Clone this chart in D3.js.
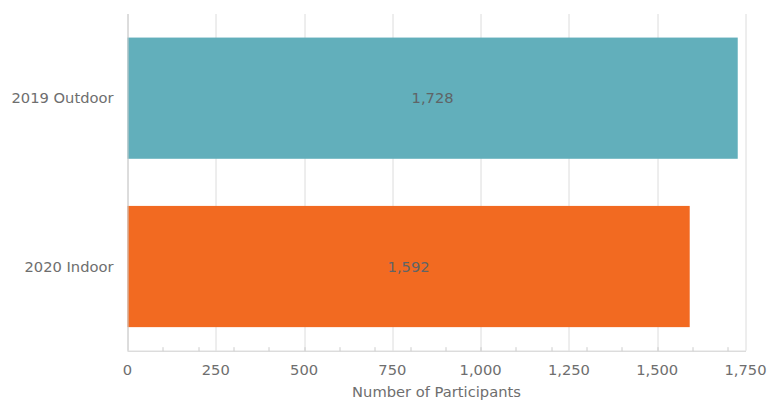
<!DOCTYPE html>
<html>
<head>
<meta charset="utf-8">
<script src="https://cdn.jsdelivr.net/npm/d3@7/dist/d3.min.js"></script>
<style>
  html, body { margin: 0; padding: 0; background: #fff; }
  svg { display: block; font-family: "DejaVu Sans", Verdana, sans-serif; }
</style>
</head>
<body>
<svg id="chart" width="768" height="402"></svg>
<script>
// Participants per event
const categories = ["2019 Outdoor", "2020 Indoor"];
const participants = [1728, 1592];
const barColors = ["#62afbb", "#f26a21"];
const xTicks = [0, 250, 500, 750, 1000, 1250, 1500, 1750];
const xMinorTicks = d3.range(100, 1750, 100);
const xTitle = "Number of Participants";

const svg = d3.select("#chart");
const margin = { top: 14, right: 22.5, bottom: 51.3, left: 127.5 };
const width = 768 - margin.left - margin.right;
const height = 402 - margin.top - margin.bottom;
const fontSize = 14.7;

const g = svg.append("g").attr("transform", `translate(${margin.left},${margin.top})`);

const x = d3.scaleLinear().domain([0, 1750]).range([0, width]);
const y = d3.scaleBand().domain(categories).range([0, height])
  .paddingInner(0.28).paddingOuter(0.14);

const fmt = d3.format(",");

// vertical gridlines
g.append("g").selectAll("line").data(xTicks).join("line")
  .attr("x1", d => Math.round(x(d)) + 0.5).attr("x2", d => Math.round(x(d)) + 0.5)
  .attr("y1", 0).attr("y2", height)
  .attr("stroke", "#dcdcdc").attr("stroke-width", 1);

// bars
g.append("g").selectAll("rect").data(categories).join("rect")
  .attr("x", x(0))
  .attr("y", d => y(d))
  .attr("width", (d, i) => x(participants[i]) - x(0))
  .attr("height", y.bandwidth())
  .attr("fill", (d, i) => barColors[i]);

// value labels
g.append("g").selectAll("text").data(categories).join("text")
  .attr("x", (d, i) => (x(0) + x(participants[i])) / 2)
  .attr("y", d => y(d) + y.bandwidth() / 2)
  .attr("dy", "0.35em")
  .attr("text-anchor", "middle")
  .attr("font-size", fontSize)
  .attr("fill", "#5f6466")
  .text((d, i) => fmt(participants[i]));

// bottom axis
const xAxis = g.append("g").attr("transform", `translate(0,${height})`);
xAxis.append("line")
  .attr("x1", 0).attr("x2", width + 0.5)
  .attr("y1", 0.5).attr("y2", 0.5)
  .attr("stroke", "#cccccc");
xAxis.selectAll("line.minor").data(xMinorTicks).join("line")
  .attr("class", "minor")
  .attr("x1", d => Math.round(x(d)) + 0.5).attr("x2", d => Math.round(x(d)) + 0.5)
  .attr("y1", -3.5).attr("y2", 0.5)
  .attr("stroke", "#cccccc");
xAxis.selectAll("text.tick").data(xTicks).join("text")
  .attr("class", "tick")
  .attr("x", d => x(d))
  .attr("y", 19)
  .attr("dy", "0.35em")
  .attr("text-anchor", "middle")
  .attr("font-size", fontSize)
  .attr("fill", "#6e6e6e")
  .text(d => fmt(d));
xAxis.append("text")
  .attr("x", width / 2)
  .attr("y", 41)
  .attr("dy", "0.35em")
  .attr("text-anchor", "middle")
  .attr("font-size", fontSize)
  .attr("fill", "#6e6e6e")
  .text(xTitle);

// left axis line and category labels
g.append("line")
  .attr("x1", 0.5).attr("x2", 0.5).attr("y1", 0).attr("y2", height)
  .attr("stroke", "#cccccc");
g.append("g").selectAll("text").data(categories).join("text")
  .attr("x", -14)
  .attr("y", d => y(d) + y.bandwidth() / 2)
  .attr("dy", "0.35em")
  .attr("text-anchor", "end")
  .attr("font-size", fontSize)
  .attr("fill", "#6e6e6e")
  .text(d => d);
</script>
</body>
</html>
